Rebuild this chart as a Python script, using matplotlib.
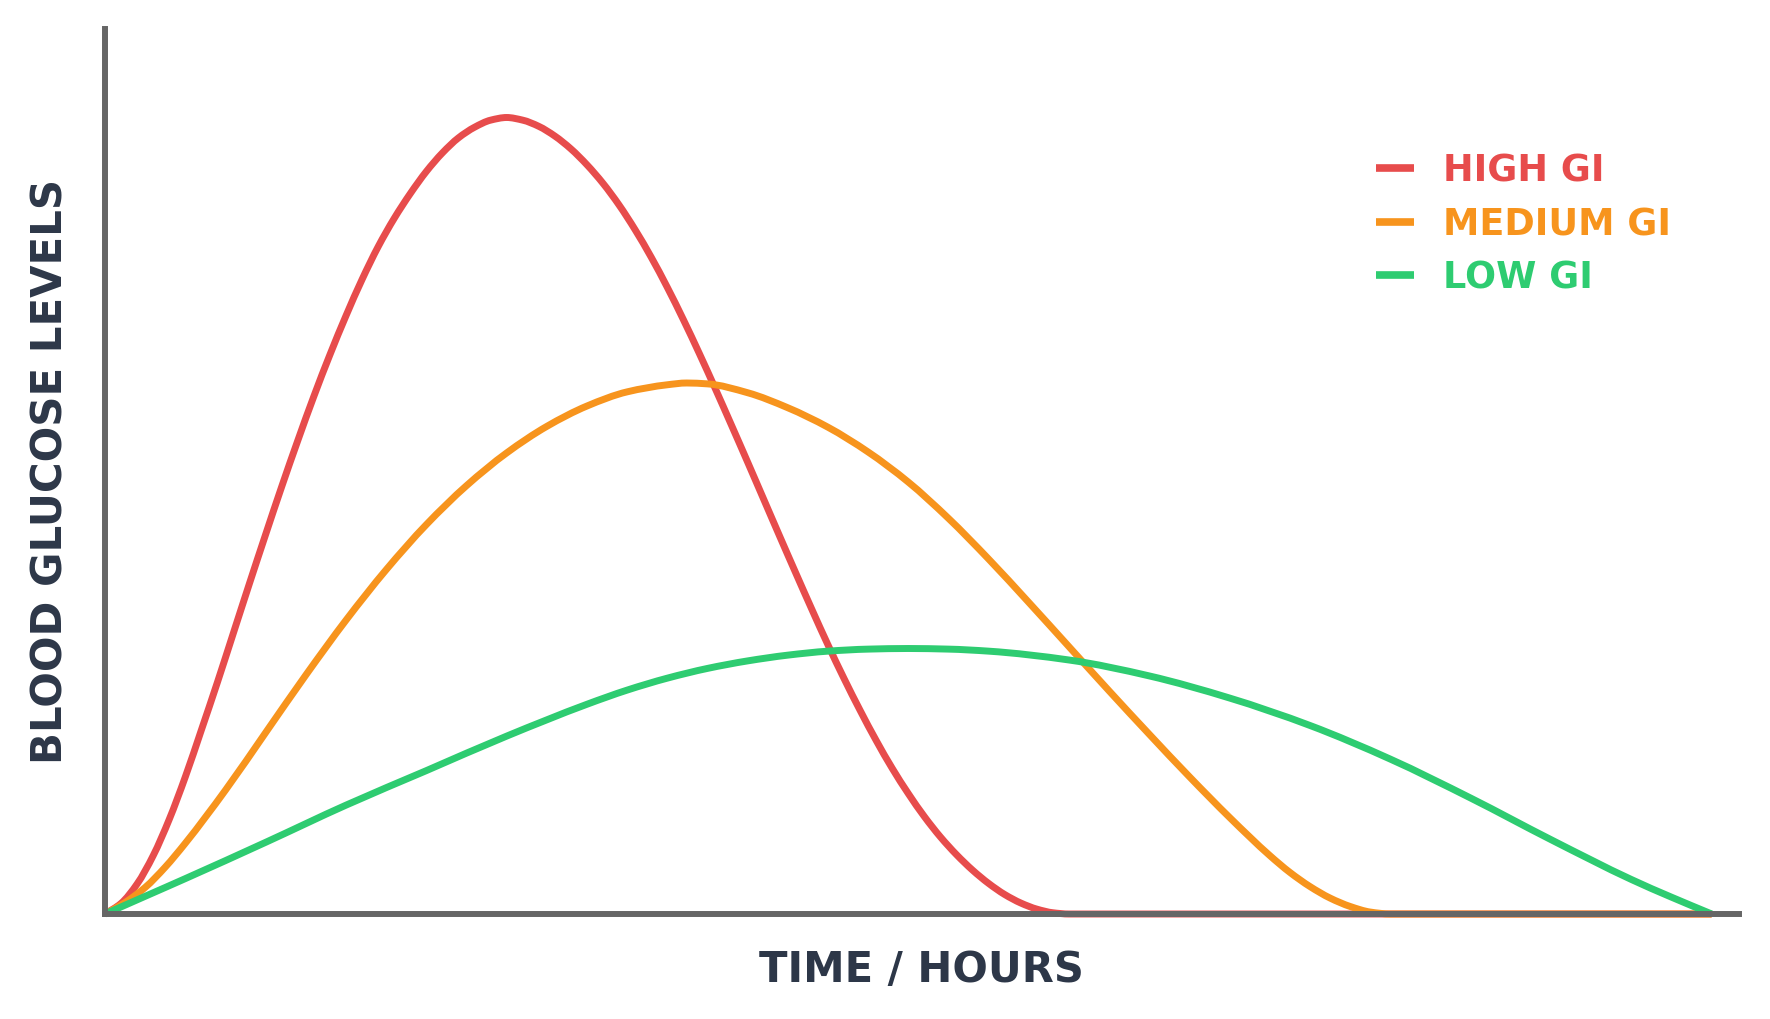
import numpy as np
import matplotlib
matplotlib.use("Agg")
import matplotlib.pyplot as plt
from matplotlib.path import Path
from matplotlib.patches import PathPatch
from matplotlib.lines import Line2D

# values (time in hours, level in arbitrary units)
high_x = [0.0, 0.1, 0.2, 0.3, 0.4, 0.5, 0.6, 0.7, 0.8, 0.9, 1.0, 1.1, 1.2, 1.3, 1.4, 1.5,
          1.6, 1.7, 1.8, 1.9, 2.0, 2.1, 2.2, 2.3, 2.4, 2.5, 2.6, 2.7, 2.8, 2.9, 3.0, 3.1,
          3.2, 3.3, 3.4, 3.5, 3.6, 3.7, 3.8, 3.9, 4.0, 4.1, 4.2, 4.3, 4.4, 4.5, 4.6, 4.7,
          4.8, 4.9, 5.0, 5.1, 5.2, 5.3, 5.4, 5.5, 5.6, 5.7, 5.8, 5.9, 6.0, 10.0]
high_y = [0, 0.12, 0.34, 0.66, 1.07, 1.55, 2.08, 2.62, 3.18, 3.74, 4.29, 4.83, 5.35, 5.85, 6.32, 6.76,
          7.17, 7.54, 7.86, 8.14, 8.39, 8.60, 8.77, 8.89, 8.97, 9.00, 8.97, 8.90, 8.79, 8.645, 8.465, 8.255,
          8.01, 7.73, 7.42, 7.08, 6.715, 6.33, 5.93, 5.52, 5.105, 4.685, 4.265, 3.85, 3.44, 3.04, 2.66, 2.30,
          1.96, 1.645, 1.36, 1.10, 0.87, 0.67, 0.495, 0.345, 0.22, 0.124, 0.055, 0.014, 0, 0]

medium_x = [0, 0.125, 0.25, 0.375, 0.5, 0.75, 1.0, 1.25, 1.5, 1.75, 2.0, 2.25, 2.5, 2.75, 3.0,
            3.25, 3.5, 3.62, 3.75, 4.0, 4.25, 4.5, 4.75, 5.0, 5.25, 5.5, 5.75, 6.0, 6.25, 6.5,
            6.75, 7.0, 7.25, 7.375, 7.5, 7.625, 7.75, 7.875, 8.0, 10.0]
medium_y = [0, 0.13, 0.30, 0.53, 0.80, 1.40, 2.05, 2.70, 3.32, 3.89, 4.40, 4.84, 5.21, 5.51, 5.74,
            5.90, 5.98, 6.00, 5.99, 5.89, 5.72, 5.50, 5.22, 4.88, 4.47, 4.01, 3.52, 3.02, 2.52, 2.03,
            1.55, 1.09, 0.66, 0.47, 0.31, 0.18, 0.085, 0.022, 0, 0]

low_x = [0, 0.25, 0.5, 1.0, 1.5, 2.0, 2.5, 3.0, 3.25, 3.5, 3.75, 4.0, 4.25, 4.5, 4.75, 5.0,
         5.25, 5.5, 6.0, 6.5, 7.0, 7.5, 8.0, 8.5, 9.0, 9.5, 9.75, 10.0]
low_y = [0, 0.20, 0.40, 0.81, 1.23, 1.62, 2.01, 2.37, 2.53, 2.665, 2.775, 2.86, 2.925, 2.97, 2.993, 3.00,
         2.993, 2.97, 2.87, 2.69, 2.44, 2.13, 1.75, 1.31, 0.84, 0.39, 0.19, 0]

labels = ["HIGH GI", "MEDIUM GI", "LOW GI"]
colors = ["#E74C4C", "#F7941D", "#2ECC71"]
ink = "#2D3748"


def smooth_path(xs, ys):
    # monotone cubic curve through the read points (like a smoothed svg line)
    xs = np.asarray(xs, float); ys = np.asarray(ys, float)
    h = np.diff(xs); d = np.diff(ys) / h
    m = np.zeros_like(xs)
    m[0], m[-1] = d[0], d[-1]
    for i in range(1, len(xs) - 1):
        if d[i - 1] * d[i] > 0:
            h0, h1 = h[i - 1], h[i]
            m[i] = 3 * (h0 + h1) / ((2 * h1 + h0) / d[i - 1] + (h1 + 2 * h0) / d[i])
    verts = [(xs[0], ys[0])]
    codes = [Path.MOVETO]
    for i in range(len(h)):
        verts += [(xs[i] + h[i] / 3, ys[i] + m[i] * h[i] / 3),
                  (xs[i + 1] - h[i] / 3, ys[i + 1] - m[i + 1] * h[i] / 3),
                  (xs[i + 1], ys[i + 1])]
        codes += [Path.CURVE4] * 3
    return Path(verts, codes)


fig = plt.figure(figsize=(17.7, 10.2), dpi=100)
ax = fig.add_axes([105 / 1770, 105 / 1020, 1634 / 1770, 885 / 1020])

for xs, ys, c in zip([high_x, medium_x, low_x], [high_y, medium_y, low_y], colors):
    p = PathPatch(smooth_path(xs, ys), fill=False, edgecolor=c, lw=5, zorder=2,
                  capstyle="butt", joinstyle="round", transform=ax.transData)
    p.set_clip_on(False)
    ax.add_patch(p)

ax.set_xlim(0, 10.17)
ax.set_ylim(0, 10)
ax.set_xticks([]); ax.set_yticks([])
for s in ["top", "right"]:
    ax.spines[s].set_visible(False)
for s in ["left", "bottom"]:
    ax.spines[s].set_color("#666666")
    ax.spines[s].set_linewidth(4.3)

fig.text(921 / 1770, (1020 - 982) / 1020, "TIME / HOURS", ha="center", va="baseline",
         fontsize=30, fontweight="bold", color=ink)
fig.text(51 / 1770, (1020 - 471) / 1020, "BLOOD GLUCOSE LEVELS", ha="center", va="center",
         rotation=90, fontsize=30.2, fontweight="bold", color=ink)

handles = [Line2D([], [], color=c, lw=5.5, solid_capstyle="butt") for c in colors]
leg = ax.legend(handles, labels, loc="upper left", bbox_to_anchor=(1376 / 1770, (1020 - 153) / 1020),
                bbox_transform=fig.transFigure, frameon=False, borderpad=0, borderaxespad=0,
                handlelength=1.04, handletextpad=0.8, labelspacing=0.45,
                prop={"size": 26.3, "weight": "bold"})
for txt, c in zip(leg.get_texts(), colors):
    txt.set_color(c)

fig.savefig("out.png", dpi=100)
